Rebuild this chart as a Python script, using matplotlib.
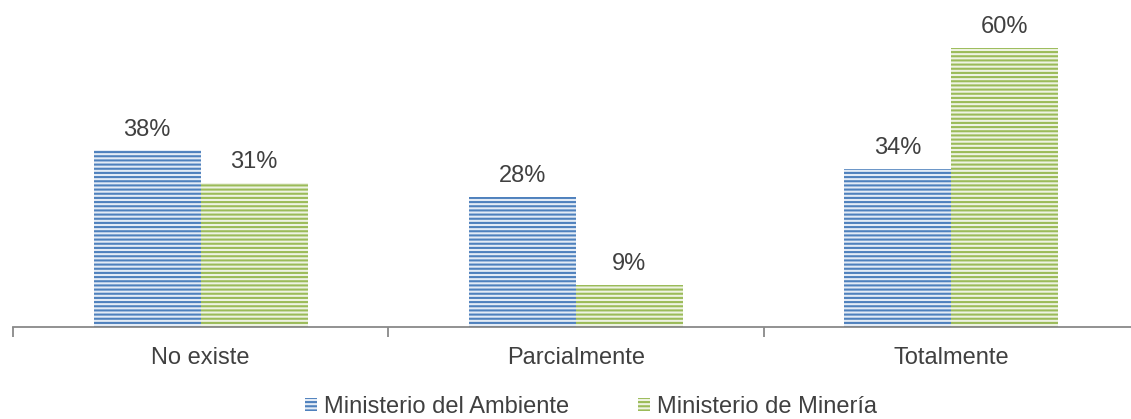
import matplotlib.pyplot as plt
import numpy as np

categories = ["No existe", "Parcialmente", "Totalmente"]
series_names = ["Ministerio del Ambiente", "Ministerio de Minería"]
ambiente = [38, 28, 34]
mineria = [31, 9, 60]

colors = ["#4F81BD", "#9BBB59"]
faces = ["#E4ECF6", "#EEF3E3"]
text_color = "#404040"

plt.rcParams["font.family"] = ["Liberation Sans", "DejaVu Sans"]
plt.rcParams["hatch.linewidth"] = 1.5

W, H = 1131, 419
fig = plt.figure(figsize=(W / 100, H / 100), dpi=100)
# axes placed in pixel terms: plot area runs past the right edge
left, right, bottom, top = 13, 1139, 327, 1.5
ax = fig.add_axes([left / W, (H - bottom) / H, (right - left) / W, (bottom - top) / H])

x = np.arange(len(categories))
width = 0.285
bars = []
for i, (vals, name) in enumerate(zip([ambiente, mineria], series_names)):
    offs = (i - 0.5) * width
    b = ax.bar(x + offs, vals, width, facecolor=faces[i], edgecolor=colors[i],
               linewidth=0, hatch="----", label=name)
    bars.append(b)
    for xi, v in zip(x, vals):
        ax.text(xi + offs, v + 2.1, f"{v}%", ha="center", va="bottom",
                fontsize=17, color=text_color)

ax.set_xlim(-0.5, len(categories) - 0.5)
ax.set_ylim(0, 70)
ax.set_yticks([])
for s in ["top", "right", "left"]:
    ax.spines[s].set_visible(False)
ax.spines["bottom"].set_color("#898989")
ax.spines["bottom"].set_linewidth(1.3)

# category ticks at boundaries, labels at centres
ax.set_xticks(np.arange(len(categories) + 1) - 0.5)
ax.set_xticklabels([])
ax.tick_params(axis="x", length=7, width=1.3, color="#898989", direction="out")
for xi, c in zip(x, categories):
    ax.text(xi, -4.3, c, ha="center", va="top", fontsize=17, color=text_color)

leg = fig.legend(handles=bars, labels=series_names, loc="center",
                 bbox_to_anchor=(591 / W, 1 - 407 / H), ncol=2, frameon=False,
                 fontsize=17, handlelength=0.5, handleheight=0.5,
                 handletextpad=0.3, columnspacing=2.9, labelcolor=text_color)

fig.savefig("out.png", dpi=100)
